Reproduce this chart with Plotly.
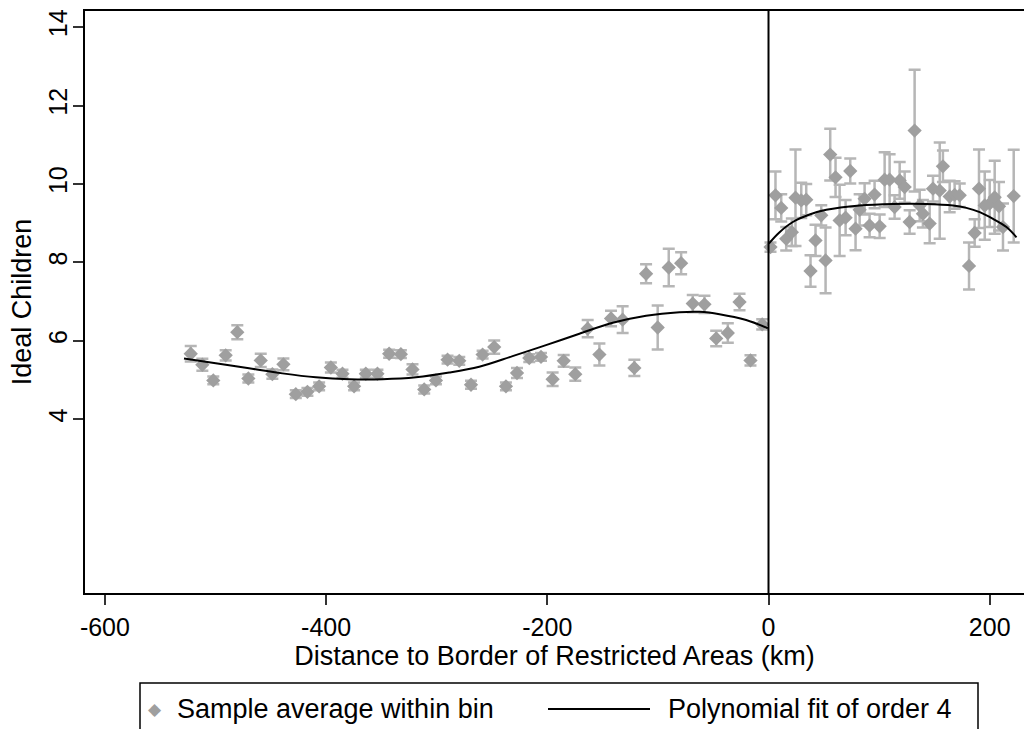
import plotly.graph_objects as go

# ---------------- data ----------------
# Bins left of the border (km), sample average, CI half-width
left_x = [-522.4, -511.9, -502.0, -490.8, -480.3, -470.3, -459.1, -448.6, -438.6, -427.4,
          -416.9, -406.3, -395.7, -385.2, -374.7, -364.1, -353.6, -343.0, -332.4, -321.9,
          -311.3, -300.7, -290.2, -279.6, -269.0, -258.5, -248.0, -237.4, -227.4, -216.3,
          -205.7, -195.2, -185.2, -174.7, -163.5, -152.9, -142.4, -131.9, -121.3, -110.7,
          -100.2, -90.2, -79.0, -68.5, -57.9, -47.3, -36.8, -26.2, -16.3, -5.7]
left_y = [5.67, 5.39, 4.99, 5.63, 6.22, 5.04, 5.50, 5.15, 5.40, 4.64,
          4.70, 4.84, 5.32, 5.16, 4.84, 5.16, 5.16, 5.67, 5.66, 5.27,
          4.76, 4.99, 5.52, 5.49, 4.88, 5.65, 5.84, 4.84, 5.18, 5.56,
          5.59, 5.02, 5.49, 5.15, 6.31, 5.65, 6.57, 6.54, 5.31, 7.71,
          6.34, 7.87, 7.98, 6.95, 6.93, 6.06, 6.20, 6.99, 5.50, 6.42]
left_err = [0.20, 0.15, 0.10, 0.13, 0.18, 0.10, 0.17, 0.12, 0.15, 0.10,
            0.10, 0.10, 0.13, 0.10, 0.10, 0.10, 0.10, 0.10, 0.10, 0.13,
            0.10, 0.10, 0.10, 0.10, 0.10, 0.10, 0.17, 0.10, 0.13, 0.10,
            0.10, 0.17, 0.15, 0.17, 0.22, 0.28, 0.20, 0.34, 0.21, 0.24,
            0.56, 0.48, 0.28, 0.22, 0.22, 0.20, 0.25, 0.21, 0.13, 0.13]

# Bins right of the border
right_x = [1.8, 6.3, 11.5, 16.0, 21.1, 24.4, 29.6, 34.1, 38.0, 42.5,
           47.7, 51.6, 55.8, 60.6, 64.3, 69.7, 73.9, 78.7, 82.4, 86.9,
           91.4, 95.9, 100.5, 105.0, 109.5, 114.0, 118.6, 123.1, 127.6, 132.1,
           136.7, 139.6, 145.7, 148.7, 154.8, 157.7, 163.8, 168.3, 172.9, 181.3,
           186.4, 190.3, 195.5, 200.0, 204.5, 208.4, 212.0, 221.7]
right_y = [8.39, 9.71, 9.39, 8.60, 8.77, 9.65, 9.58, 9.60, 7.78, 8.56,
           9.20, 8.05, 10.75, 10.17, 9.07, 9.14, 10.33, 8.86, 9.34, 9.62,
           8.94, 9.73, 8.92, 10.11, 10.11, 9.41, 10.09, 9.92, 9.03, 11.36,
           9.45, 9.24, 8.99, 9.88, 9.83, 10.45, 9.68, 9.72, 9.71, 7.91,
           8.75, 9.88, 9.45, 9.50, 9.66, 9.43, 8.90, 9.69]
right_err = [0.12, 0.61, 0.35, 0.30, 0.35, 1.23, 0.45, 0.40, 0.40, 0.40,
             0.26, 0.84, 0.66, 0.50, 0.91, 0.45, 0.32, 0.55, 0.40, 0.40,
             0.30, 0.35, 0.30, 0.70, 0.65, 0.30, 0.47, 0.40, 0.30, 1.55,
             0.40, 0.35, 0.50, 0.33, 1.23, 0.40, 0.40, 0.35, 0.30, 0.60,
             0.35, 1.00, 0.87, 0.60, 0.93, 0.62, 0.60, 1.18]

# Polynomial fit (order 4) curves
fit_left_x = [-528.5, -499.8, -469.7, -439.5, -409.3, -379.2, -349.0, -318.8, -288.7, -261.5,
              -231.4, -201.2, -171.0, -140.9, -110.7, -80.5, -62.4, -44.3, -20.2, -0.6]
fit_left_y = [5.55, 5.43, 5.30, 5.17, 5.07, 5.02, 5.02, 5.07, 5.19, 5.34,
              5.61, 5.89, 6.18, 6.46, 6.64, 6.73, 6.74, 6.68, 6.53, 6.32]
fit_right_x = [0.3, 10.0, 22.0, 37.1, 52.2, 82.4, 112.5, 142.7, 166.8, 178.9, 191.0, 203.0, 215.1, 224.2]
fit_right_y = [8.48, 8.77, 9.03, 9.22, 9.34, 9.45, 9.49, 9.49, 9.45, 9.39, 9.28, 9.11, 8.90, 8.64]

border_x = 0
x_ticks = [-600, -400, -200, 0, 200]
x_tick_text = ["-600", "-400", "-200", "0", "200"]
y_ticks = [4, 6, 8, 10, 12, 14]
x_title = "Distance to Border of Restricted Areas (km)"
y_title = "Ideal Children"
legend_labels = ["Sample average within bin", "Polynomial fit of order 4"]

# ---------------- styling ----------------
FONT = "Liberation Sans, Arial, Helvetica, sans-serif"
MARK = "#9f9f9f"
ERR = "#b6b6b6"

fig = go.Figure()

for xs, ys, es in [(left_x, left_y, left_err), (right_x, right_y, right_err)]:
    fig.add_trace(go.Scatter(
        x=xs, y=ys, mode="markers",
        marker=dict(symbol="diamond", size=11, color=MARK),
        error_y=dict(type="data", array=es, color=ERR, thickness=2.5, width=6),
        name=legend_labels[0], showlegend=False, cliponaxis=True))

for xs, ys in [(fit_left_x, fit_left_y), (fit_right_x, fit_right_y)]:
    fig.add_trace(go.Scatter(
        x=xs, y=ys, mode="lines",
        line=dict(color="black", width=2, shape="spline", smoothing=1.0),
        name=legend_labels[1], showlegend=False))

fig.add_shape(type="line", xref="x", yref="paper", x0=border_x, x1=border_x, y0=0, y1=1,
              line=dict(color="black", width=2))

# ---------------- manual legend (box extends past bottom edge) ----------------
L, R, T, B, W, H = 85, 0, 11, 136, 1024, 729
pw = W - L - R
ph = H - T - B
def px(xp):
    return (xp - L) / pw
def py(yp):
    return (H - B - yp) / ph

fig.add_shape(type="rect", xref="paper", yref="paper",
              x0=px(140), x1=px(978), y0=py(683), y1=py(770),
              line=dict(color="black", width=1.5), fillcolor="rgba(0,0,0,0)")
fig.add_annotation(xref="paper", yref="paper", x=px(155), y=py(709), text="\u25C6",
                   showarrow=False, xanchor="center", yanchor="middle",
                   font=dict(size=17, color=MARK, family="DejaVu Sans"))
fig.add_annotation(xref="paper", yref="paper", x=px(175), y=py(709), text=legend_labels[0],
                   showarrow=False, xanchor="left", yanchor="middle",
                   font=dict(size=27, color="black", family=FONT))
fig.add_shape(type="line", xref="paper", yref="paper", x0=px(548), x1=px(650),
              y0=py(709), y1=py(709), line=dict(color="black", width=2))
fig.add_annotation(xref="paper", yref="paper", x=px(666), y=py(709), text=legend_labels[1],
                   showarrow=False, xanchor="left", yanchor="middle",
                   font=dict(size=27, color="black", family=FONT))

fig.update_layout(
    width=W, height=H,
    margin=dict(l=L, r=R, t=T, b=B, autoexpand=False),
    plot_bgcolor="white", paper_bgcolor="white",
    showlegend=False,
    font=dict(family=FONT, size=25, color="black"),
)
fig.update_xaxes(
    range=[-618, 231], tickvals=x_ticks, ticktext=x_tick_text, ticks="outside", ticklen=10,
    tickwidth=1.5, tickcolor="#333333", showline=True, linecolor="black", linewidth=2,
    mirror=True, showgrid=False, zeroline=False, tickfont=dict(size=25), ticklabelstandoff=1,
    title=dict(text=x_title, font=dict(size=27), standoff=0),
)
fig.update_yaxes(
    range=[-0.43, 14.41], tickvals=y_ticks, ticks="outside", ticklen=10, tickwidth=1.5,
    tickcolor="#333333", showline=True, linecolor="black", linewidth=2, mirror=False,
    showgrid=False, zeroline=False, tickangle=-90, tickfont=dict(size=25), ticklabelstandoff=-4,
    title=dict(text=y_title, font=dict(size=27), standoff=5),
)

fig.write_html(
    "out.html",
    config={"displayModeBar": False},
    post_script="document.body.style.margin='0';document.body.style.overflow='hidden';",
)
